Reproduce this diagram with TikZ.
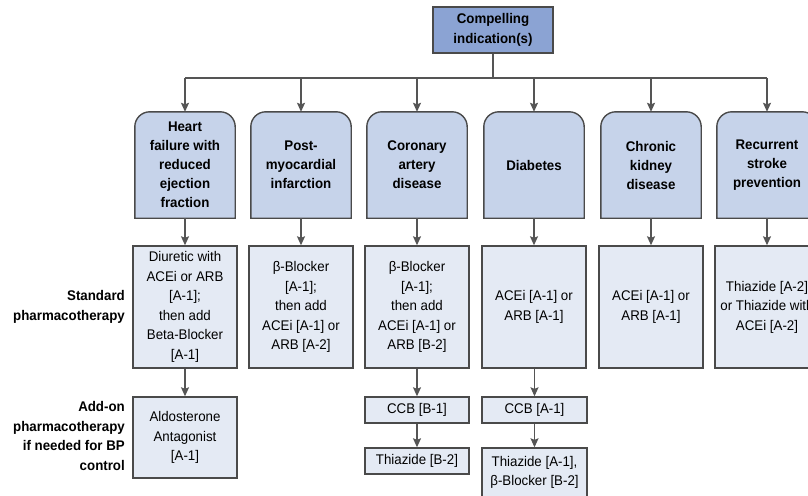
\documentclass[tikz,border=0pt]{standalone}
\usepackage{fontspec}
\setmainfont{Liberation Sans}[FakeStretch=0.95]
\usetikzlibrary{arrows.meta}
\definecolor{topfill}{HTML}{8BA3D3}
\definecolor{catfill}{HTML}{C6D3EA}
\definecolor{lowfill}{HTML}{E4EAF4}
\definecolor{edge}{HTML}{4A4A4A}
\definecolor{wire}{HTML}{555555}
\tikzset{
  txt/.style={font=\fontsize{14}{19.5}\selectfont, align=center, inner sep=0pt},
  topbox/.style={txt, font=\fontsize{14}{19.5}\selectfont\bfseries, draw=edge, line width=1.4pt, fill=topfill, minimum width=120pt, minimum height=46pt},
  catbox/.style={txt, font=\fontsize{14}{19}\selectfont\bfseries, minimum width=100pt, minimum height=106pt},
  catline/.style={draw=edge, line width=1.4pt, fill=catfill},
  lowbox/.style={txt, draw=edge, line width=1.4pt, fill=lowfill, minimum width=104pt},
  sidelabel/.style={font=\fontsize{14}{19.5}\selectfont\bfseries, align=right, inner sep=0pt, anchor=east},
  wireline/.style={draw=wire, line width=1.3pt},
  arr/.style={wireline, -{Stealth[length=9pt,width=8pt,inset=1.5pt]}}
}
\newcommand{\catshape}[1]{%
  \path[catline] (#1.south west) -- ([yshift=-15pt]#1.north west)
    arc[start angle=180, end angle=90, radius=15pt]
    -- ([xshift=-15pt]#1.north east)
    arc[start angle=90, end angle=0, radius=15pt]
    -- (#1.south east) -- cycle;}
\begin{document}
\begin{tikzpicture}[x=1pt,y=1pt]
\useasboundingbox (0,0) rectangle (808,-495);
\clip (0,0) rectangle (808,-495);

% top
\node[topbox] (top) at (493,-30) {Compelling\\indication(s)};

% category nodes (text only; shapes drawn below)
\node[catbox] (c1) at (185,-165) {};
\node[catbox] (c2) at (301,-165) {};
\node[catbox] (c3) at (417,-165) {};
\node[catbox] (c4) at (534,-165) {};
\node[catbox] (c5) at (651,-165) {};
\node[catbox] (c6) at (767,-165) {};
\foreach \n in {c1,c2,c3,c4,c5,c6} {\catshape{\n}}
\node[catbox] at (c1) {Heart\\failure with\\reduced\\ejection\\fraction};
\node[catbox] at (c2) {Post-\\myocardial\\infarction};
\node[catbox] at (c3) {Coronary\\artery\\disease};
\node[catbox] at (c4) {Diabetes};
\node[catbox] at (c5) {Chronic\\kidney\\disease};
\node[catbox] at (c6) {Recurrent\\stroke\\prevention};

% standard pharmacotherapy row
\node[lowbox, minimum height=122pt] (s1) at (185,-307) {Diuretic with\\ACEi or ARB\\{[A-1];}\\then add\\Beta-Blocker\\{[A-1]}};
\node[lowbox, minimum height=122pt] (s2) at (301,-307) {β-Blocker\\{[A-1];}\\then add\\ACEi [A-1] or\\ARB [A-2]};
\node[lowbox, minimum height=122pt] (s3) at (417,-307) {β-Blocker\\{[A-1];}\\then add\\ACEi [A-1] or\\ARB [B-2]};
\node[lowbox, minimum height=122pt] (s4) at (534,-307) {ACEi [A-1] or\\ARB [A-1]};
\node[lowbox, minimum height=122pt] (s5) at (651,-307) {ACEi [A-1] or\\ARB [A-1]};
\node[lowbox, minimum height=122pt] (s6) at (767,-307) {Thiazide [A-2]\\or Thiazide with\\ACEi [A-2]};

% add-on row
\node[lowbox, minimum height=81pt] (a1) at (185,-437.5) {Aldosterone\\Antagonist\\{[A-1]}};
\node[lowbox, minimum height=26pt] (a3) at (417,-410) {CCB [B-1]};
\node[lowbox, minimum height=26pt] (b3) at (417,-461) {Thiazide [B-2]};
\node[lowbox, minimum height=26pt, minimum width=105pt] (a4) at (534.5,-410) {CCB [A-1]};
\node[lowbox, minimum height=49pt, minimum width=105pt] (b4) at (534.5,-472.5) {Thiazide [A-1],\\β-Blocker [B-2]};

% side labels
\node[sidelabel] (l1) at (125,-307) {Standard\\pharmacotherapy};
\node[sidelabel] (l2) at (125,-436) {Add-on\\pharmacotherapy\\if needed for BP\\control};

% connectors
\coordinate (bus) at (0,-78);
\draw[wireline] (top.south) -- (top.south |- bus);
\draw[wireline] (bus -| c1) -- (bus -| c6);
\foreach \n in {c1,c2,c3,c4,c5,c6} {\draw[arr] (bus -| \n) -- (\n.north);}
\foreach \i in {1,...,6} {\draw[arr] (c\i.south) -- (s\i.north);}
\draw[arr] (s1.south) -- (a1.north);
\draw[arr] (s3.south) -- (a3.north);
\draw[arr] (a3.south) -- (b3.north);
\draw[arr] (s4.south -| a4) -- (a4.north);
\draw[arr] (a4.south) -- (b4.north);
\end{tikzpicture}
\end{document}
